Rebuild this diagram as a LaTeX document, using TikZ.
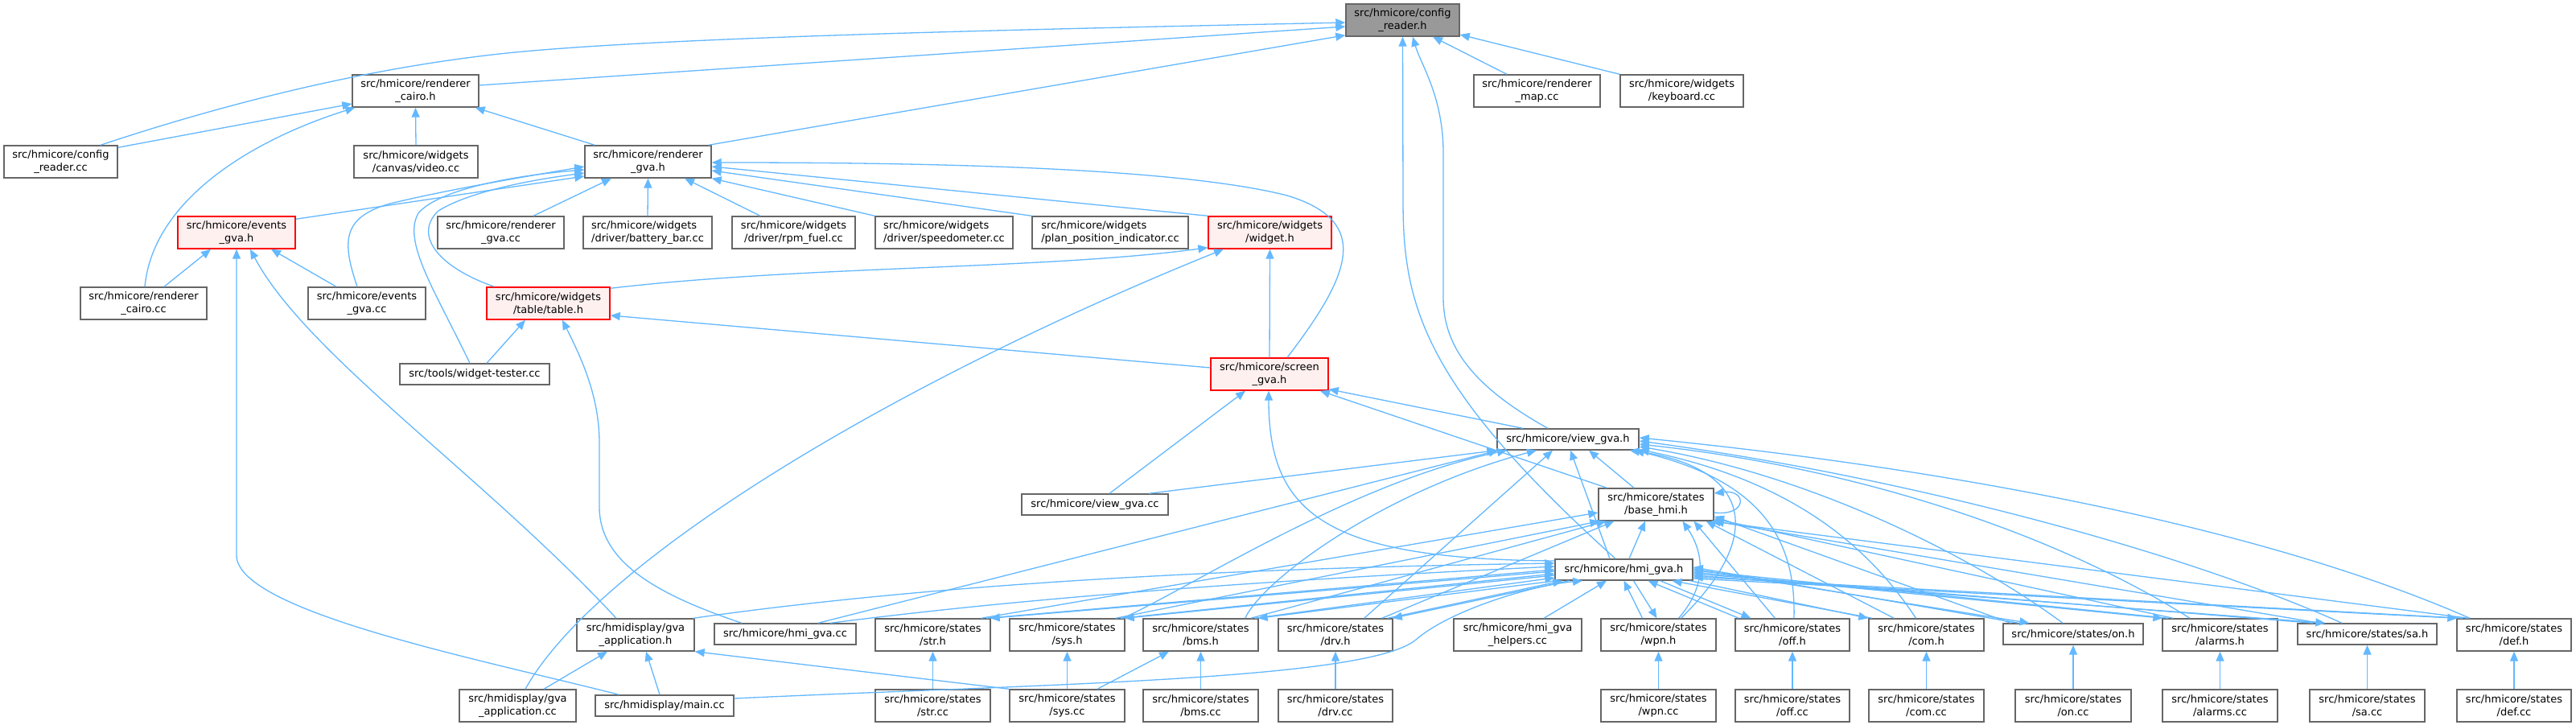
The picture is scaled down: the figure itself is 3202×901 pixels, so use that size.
\documentclass[tikz,border=0pt]{standalone}
\usepackage{fontspec}
\setmainfont{DejaVu Sans}
\usetikzlibrary{arrows.meta,calc}
\definecolor{edgec}{HTML}{63B8FF}
\definecolor{nbord}{HTML}{666666}
\definecolor{rfill}{HTML}{FFF0F0}
\definecolor{rootf}{HTML}{999999}
\begin{document}
\begin{tikzpicture}[x=1pt,y=-1pt,
  nd/.style={draw=nbord, fill=white, line width=1.4pt, inner sep=0pt, align=center,
     font=\fontsize{13pt}{15.5pt}\selectfont, minimum height=40pt},
  one/.style={minimum height=26pt},
  rednd/.style={draw=red, fill=rfill},
  rootnd/.style={fill=rootf},
  lft/.style={align=left},
  edg/.style={draw=edgec, line width=1.3pt, -{Triangle[length=12pt,width=10pt]}}]
\fill[white] (0,0) rectangle (3202,901);
\useasboundingbox (0,0) rectangle (3202,901);

% ---- nodes ----
\node[nd,rootnd,minimum width=141pt] (cfgh) at (1743.5,25) {src/hmicore/config\\\_reader.h};
\node[nd,minimum width=157pt] (rch) at (516.5,113) {src/hmicore/renderer\\\_cairo.h};
\node[nd,minimum width=157pt] (rmap) at (1910.5,113) {src/hmicore/renderer\\\_map.cc};
\node[nd,minimum width=153pt] (kbd) at (2090.5,113) {src/hmicore/widgets\\/keyboard.cc};
\node[nd,minimum width=141pt] (cfgcc) at (75.5,201) {src/hmicore/config\\\_reader.cc};
\node[nd,minimum width=154pt] (video) at (517,201) {src/hmicore/widgets\\/canvas/video.cc};
\node[nd,minimum width=157pt] (rgh) at (805.5,201) {src/hmicore/renderer\\\_gva.h};
\node[nd,rednd,minimum width=146pt] (evh) at (294,289) {src/hmicore/events\\\_gva.h};
\node[nd,minimum width=157pt] (rgcc) at (622.5,289) {src/hmicore/renderer\\\_gva.cc};
\node[nd,lft,minimum width=160pt] (batt) at (805,289) {src/hmicore/widgets\\/driver/battery\_bar.cc};
\node[nd,minimum width=153pt] (rpm) at (986.5,289) {src/hmicore/widgets\\/driver/rpm\_fuel.cc};
\node[nd,lft,minimum width=171pt] (speedo) at (1173.5,289) {src/hmicore/widgets\\/driver/speedometer.cc};
\node[nd,lft,minimum width=194pt] (ppi) at (1380,289) {src/hmicore/widgets\\/plan\_position\_indicator.cc};
\node[nd,rednd,minimum width=153pt] (widget) at (1578.5,289) {src/hmicore/widgets\\/widget.h};
\node[nd,minimum width=157pt] (rccc) at (178.5,377) {src/hmicore/renderer\\\_cairo.cc};
\node[nd,minimum width=146pt] (evcc) at (456,377) {src/hmicore/events\\\_gva.cc};
\node[nd,rednd,minimum width=153pt] (table) at (681.5,377) {src/hmicore/widgets\\/table/table.h};
\node[nd,one,minimum width=186pt] (tester) at (590,465) {src/tools/widget-tester.cc};
\node[nd,rednd,minimum width=146pt] (screen) at (1578,465) {src/hmicore/screen\\\_gva.h};
\node[nd,one,minimum width=176pt] (viewh) at (1949,546) {src/hmicore/view\_gva.h};
\node[nd,one,minimum width=182pt] (viewcc) at (1361,627) {src/hmicore/view\_gva.cc};
\node[nd,minimum width=143pt] (base) at (2058.5,627) {src/hmicore/states\\/base\_hmi.h};
\node[nd,one,minimum width=171pt] (hmih) at (2018.5,708) {src/hmicore/hmi\_gva.h};
\node[nd,minimum width=146pt] (gapph) at (790,789) {src/hmidisplay/gva\\\_application.h};
\node[nd,one,minimum width=176pt] (hmicc) at (976,788) {src/hmicore/hmi\_gva.cc};
\node[nd,minimum width=143pt] (h-str) at (1159.5,789) {src/hmicore/states\\/str.h};
\node[nd,minimum width=143pt] (h-sys) at (1326.5,789) {src/hmicore/states\\/sys.h};
\node[nd,minimum width=143pt] (h-bms) at (1492.5,789) {src/hmicore/states\\/bms.h};
\node[nd,minimum width=142pt] (h-drv) at (1660,789) {src/hmicore/states\\/drv.h};
\node[nd,minimum width=159pt] (helpers) at (1886.5,789) {src/hmicore/hmi\_gva\\\_helpers.cc};
\node[nd,minimum width=143pt] (h-wpn) at (2061.5,789) {src/hmicore/states\\/wpn.h};
\node[nd,minimum width=142pt] (h-off) at (2228,789) {src/hmicore/states\\/off.h};
\node[nd,minimum width=143pt] (h-com) at (2394.5,789) {src/hmicore/states\\/com.h};
\node[nd,one,minimum width=174pt] (h-on) at (2577,788) {src/hmicore/states/on.h};
\node[nd,minimum width=143pt] (h-alarms) at (2759.5,789) {src/hmicore/states\\/alarms.h};
\node[nd,one,minimum width=173pt] (h-sa) at (2942.5,788) {src/hmicore/states/sa.h};
\node[nd,minimum width=142pt] (h-def) at (3125,789) {src/hmicore/states\\/def.h};
\node[nd,minimum width=145pt] (gappcc) at (643.5,877) {src/hmidisplay/gva\\\_application.cc};
\node[nd,one,minimum width=172pt] (maincc) at (826,877) {src/hmidisplay/main.cc};
\node[nd,minimum width=143pt] (cc-str) at (1159.5,877) {src/hmicore/states\\/str.cc};
\node[nd,minimum width=143pt] (cc-sys) at (1326.5,877) {src/hmicore/states\\/sys.cc};
\node[nd,minimum width=143pt] (cc-bms) at (1492.5,877) {src/hmicore/states\\/bms.cc};
\node[nd,minimum width=142pt] (cc-drv) at (1660,877) {src/hmicore/states\\/drv.cc};
\node[nd,minimum width=143pt] (cc-wpn) at (2061.5,877) {src/hmicore/states\\/wpn.cc};
\node[nd,minimum width=142pt] (cc-off) at (2228,877) {src/hmicore/states\\/off.cc};
\node[nd,minimum width=143pt] (cc-com) at (2394.5,877) {src/hmicore/states\\/com.cc};
\node[nd,minimum width=144pt] (cc-on) at (2577,877) {src/hmicore/states\\/on.cc};
\node[nd,minimum width=143pt] (cc-alarms) at (2759.5,877) {src/hmicore/states\\/alarms.cc};
\node[nd,minimum width=143pt] (cc-sa) at (2942.5,877) {src/hmicore/states\\/sa.cc};
\node[nd,minimum width=142pt] (cc-def) at (3125,877) {src/hmicore/states\\/def.cc};

% ---- edges into config_reader.h ----
\draw[edg] ($(rch.east)+(0,-7)$) -- ($(cfgh.west)+(0,8)$);
\draw[edg] ($(cfgcc.north)+(49.5,0)$) .. controls (240,142) and (420,90) .. (612,68) .. controls (800,46) and (1300,36) .. ($(cfgh.west)+(0,3)$);
\draw[edg] ($(rgh.north east)+(-4,0)$) -- ($(cfgh.south west)+(0,-2)$);
\draw[edg] ($(rmap.north)+(-37.5,0)$) -- ($(cfgh.south)+(37.5,0)$);
\draw[edg] (kbd.north west) -- ($(cfgh.east)+(0,18)$);
\draw[edg] ($(hmih.north)+(-10.5,0)$) .. controls (1770,480) and (1744,380) .. (1744,250) -- (cfgh.south);
\draw[edg] ($(viewh.north)+(-25,0)$) .. controls (1830,480) and (1794,430) .. (1794,370) -- (1794,190) .. controls (1794,120) and (1766,80) .. ($(cfgh.south)+(12.5,0)$);

% ---- renderer_cairo.h ----
\draw[edg] ($(cfgcc.north east)+(0,3)$) -- ($(rch.west)+(0,16)$);
\draw[edg] ($(rccc.north)+(1.5,0)$) .. controls (190,250) and (310,175) .. ($(rch.south west)+(4,0)$);
\draw[edg] (video.north) -- (rch.south);
\draw[edg] ($(rgh.north west)+(13,0)$) -- ($(rch.south east)+(-5,0)$);

% ---- renderer_gva.h ----
\draw[edg] ($(evh.north east)+(0,4)$) -- ($(rgh.west)+(0,18)$);
\draw[edg] ($(evcc.north)+(-12,0)$) .. controls (425,300) and (425,270) .. (485,253) .. controls (560,235) and (650,220) .. ($(rgh.west)+(0,6)$);
\draw[edg] ($(tester.north)+(-6,0)$) .. controls (540,360) and (500,300) .. (520,265) .. controls (545,235) and (640,218) .. ($(rgh.west)+(0,10)$);
\draw[edg] ($(table.north west)+(10,0)$) .. controls (540,330) and (515,290) .. (545,262) .. controls (580,240) and (650,225) .. ($(rgh.west)+(0,14)$);
\draw[edg] ($(rgcc.north)+(40.5,0)$) -- ($(rgh.south)+(-45.5,0)$);
\draw[edg] (batt.north) -- (rgh.south);
\draw[edg] ($(rpm.north)+(-41.5,0)$) -- ($(rgh.south)+(45.5,0)$);
\draw[edg] (speedo.north west) -- (rgh.south east);
\draw[edg] (ppi.north west) -- ($(rgh.east)+(0,11)$);
\draw[edg] (widget.north west) -- ($(rgh.east)+(0,6)$);
\draw[edg] ($(screen.north)+(22,0)$) .. controls (1680,340) and (1705,275) .. (1600,243) .. controls (1450,205) and (1100,202) .. ($(rgh.east)+(0,1)$);

% ---- events_gva.h ----
\draw[edg] ($(rccc.north)+(25.5,0)$) -- ($(evh.south)+(-32,0)$);
\draw[edg] ($(evcc.north)+(-38,0)$) -- ($(evh.south)+(43,0)$);
\draw[edg] ($(gapph.north)+(-24,0)$) .. controls (600,590) and (380,440) .. ($(evh.south)+(17,0)$);
\draw[edg] ($(maincc.north west)+(30,0)$) .. controls (600,820) and (294,760) .. (294,690) -- (evh.south);

% ---- table.h / widget.h ----
\draw[edg] ($(tester.north)+(15,0)$) -- ($(table.south)+(-28.5,0)$);
\draw[edg] ($(hmicc.north)+(-54,0)$) .. controls (820,740) and (745,700) .. (745,630) -- (745,550) .. controls (745,490) and (720,440) .. ($(table.south)+(17.5,0)$);
\draw[edg] ($(screen.west)+(0,-8)$) -- ($(table.east)+(0,15)$);
\draw[edg] ($(table.north east)+(0,2)$) .. controls (1000,330) and (1300,335) .. ($(widget.south west)+(0,-2)$);
\draw[edg] (screen.north) -- (widget.south);
\draw[edg] ($(gappcc.north)+(9.5,0)$) .. controls (740,700) and (1100,480) .. ($(widget.south)+(-57.5,0)$);

% ---- screen_gva.h ----
\draw[edg] ($(viewcc.north)+(18,0)$) -- ($(screen.south)+(-30,0)$);
\draw[edg] ($(hmih.west)+(0,-11)$) .. controls (1650,695) and (1577,640) .. ($(screen.south)+(-1,0)$);
\draw[edg] ($(viewh.north)+(-56,0)$) -- ($(screen.south east)+(0,-2)$);
\draw[edg] ($(base.north west)+(11,0)$) -- ($(screen.south)+(63,0)$);

% ---- view_gva.h ----
\draw[edg] ($(viewcc.north)+(67,0)$) -- (viewh.south west);
\draw[edg] ($(base.north)+(-27.5,0)$) -- ($(viewh.south)+(26,0)$);
\draw[edg] ($(hmih.north)+(-17.5,0)$) -- ($(viewh.south)+(3,0)$);
\draw[edg] ($(hmicc.north)+(41,0)$) -- ($(viewh.south west)+(2,0)$);

% ---- hmi_gva.h ----
\draw[edg] ($(gapph.north east)+(-2,0)$) .. controls (1200,720) and (1600,705) .. ($(hmih.west)+(0,-8)$);
\draw[edg] ($(hmicc.north)+(56,0)$) .. controls (1300,740) and (1600,720) .. ($(hmih.west)+(0,-4)$);
\draw[edg] ($(maincc.east)+(0,-9)$) .. controls (1300,850) and (1700,845) .. (1760,795) .. controls (1800,760) and (1900,728) .. ($(hmih.south)+(-51.5,0)$);
\draw[edg] ($(helpers.north)+(32.5,0)$) -- ($(hmih.south)+(-21.5,0)$);
\draw[edg] ($(hmih.north)+(6.5,0)$) -- ($(base.south)+(-13.5,0)$);
\draw[edg] ($(base.east)+(0,10)$) .. controls (2172,642) and (2172,608) .. ($(base.east)+(0,-14)$);

% ---- gva_application.h ----
\draw[edg] ($(gappcc.north)+(32.5,0)$) -- ($(gapph.south)+(-35,0)$);
\draw[edg] ($(maincc.north)+(-6,0)$) -- ($(gapph.south)+(13,0)$);
\draw[edg] (cc-sys.north west) -- (gapph.south east);
\draw[edg] ($(cc-sys.north)+(37.5,0)$) -- ($(h-bms.south)+(-39.5,0)$);
\foreach \s in {str,sys,bms,drv,wpn,off,com,on,alarms,sa,def}
  \draw[edg] (cc-\s.north) -- (h-\s.south);

% ---- left state headers ----
\draw[edg] ($(h-str.north east)+(-12,0)$) -- ($(base.west)+(0,10)$);
\draw[edg] ($(h-str.north east)+(-6,0)$) -- ($(hmih.west)+(0,0)$);
\draw[edg] ($(hmih.west)+(0,2)$) -- ($(h-str.north east)+(-1,0)$);

\draw[edg] ($(h-sys.north east)+(-3,0)$) .. controls (1480,730) and (1680,600) .. ($(viewh.south)+(-76,0)$);
\draw[edg] ($(h-sys.north east)+(-12,0)$) -- ($(base.south west)+(2,0)$);
\draw[edg] ($(h-sys.north east)+(-6,0)$) -- ($(hmih.west)+(0,5)$);
\draw[edg] ($(hmih.west)+(0,7)$) -- ($(h-sys.north east)+(-1,0)$);

\draw[edg] ($(h-bms.north east)+(-17,0)$) .. controls (1570,720) and (1720,610) .. ($(viewh.south)+(-39,0)$);
\draw[edg] ($(h-bms.north east)+(-10,0)$) -- ($(base.south west)+(10,0)$);
\draw[edg] ($(h-bms.north east)+(-5,0)$) -- ($(hmih.west)+(0,10)$);
\draw[edg] ($(hmih.south west)+(2,0)$) -- ($(h-bms.north east)+(-1,0)$);

\draw[edg] ($(h-drv.north east)+(-36,0)$) -- ($(viewh.south)+(-19,0)$);
\draw[edg] ($(h-drv.north east)+(-14,0)$) -- ($(base.south west)+(20,0)$);
\draw[edg] ($(h-drv.north east)+(-7,0)$) -- ($(hmih.south west)+(10,0)$);
\draw[edg] ($(hmih.south west)+(18,0)$) -- ($(h-drv.north east)+(-1,0)$);

% ---- middle state headers ----
\draw[edg] ($(h-wpn.north)+(-20,0)$) -- (hmih.south);
\draw[edg] ($(hmih.south)+(12,0)$) -- ($(h-wpn.north)+(-2,0)$);
\draw[edg] ($(h-wpn.north)+(25,0)$) .. controls (2120,730) and (2120,690) .. ($(base.south)+(33,0)$);
\draw[edg] ($(h-wpn.north)+(28,0)$) .. controls (2200,660) and (2170,580) .. ($(viewh.south east)+(-12,0)$);

\draw[edg] ($(h-off.north west)+(5,0)$) -- ($(hmih.south)+(30,0)$);
\draw[edg] ($(hmih.south)+(45,0)$) -- ($(h-off.north west)+(20,0)$);
\draw[edg] ($(h-off.north west)+(50,0)$) -- ($(base.south)+(47,0)$);
\draw[edg] ($(h-off.north)+(2,0)$) .. controls (2232,680) and (2200,600) .. ($(viewh.south east)+(-6,0)$);

\draw[edg] ($(h-com.north west)+(5,0)$) -- ($(hmih.south)+(60,0)$);
\draw[edg] ($(hmih.south east)+(-4,0)$) -- (h-com.north west);
\draw[edg] ($(h-com.north west)+(32,0)$) -- ($(base.south east)+(-10,0)$);
\draw[edg] ($(h-com.north)+(-13,0)$) .. controls (2330,690) and (2240,600) .. ($(viewh.south east)+(0,-1)$);

% ---- right state headers ----
\draw[edg] ($(h-on.north)+(-13,0)$) .. controls (2450,690) and (2250,590) .. ($(viewh.east)+(0,9)$);
\draw[edg] ($(h-on.north west)+(10,0)$) -- ($(base.south east)+(0,-6)$);
\draw[edg] ($(h-on.north west)+(20,0)$) -- ($(hmih.east)+(0,-3)$);
\draw[edg] ($(hmih.east)+(0,-1)$) -- ($(h-on.north west)+(33,0)$);

\draw[edg] ($(h-alarms.north)+(-37.5,0)$) .. controls (2550,660) and (2300,580) .. ($(viewh.east)+(0,6)$);
\draw[edg] ($(h-alarms.north west)+(14,0)$) -- ($(base.south east)+(0,-3)$);
\draw[edg] ($(h-alarms.north west)+(8,0)$) -- ($(hmih.east)+(0,1)$);
\draw[edg] ($(hmih.east)+(0,3)$) -- ($(h-alarms.north west)+(1,0)$);

\draw[edg] ($(h-sa.north)+(-31.5,0)$) .. controls (2700,680) and (2350,590) .. ($(viewh.east)+(0,2)$);
\draw[edg] ($(h-sa.north west)+(28,0)$) -- (base.south east);
\draw[edg] ($(h-sa.north west)+(20,0)$) -- ($(hmih.east)+(0,5)$);
\draw[edg] ($(hmih.east)+(0,7)$) -- ($(h-sa.north west)+(35,0)$);

\draw[edg] ($(h-def.north)+(-55,0)$) .. controls (2800,650) and (2400,580) .. ($(viewh.east)+(0,-2)$);
\draw[edg] ($(h-def.north west)+(15,0)$) -- ($(base.south east)+(-4,0)$);
\draw[edg] ($(h-def.north west)+(8,0)$) -- ($(hmih.east)+(0,9)$);
\draw[edg] ($(hmih.east)+(0,11)$) -- ($(h-def.north west)+(1,0)$);
\end{tikzpicture}
\end{document}
